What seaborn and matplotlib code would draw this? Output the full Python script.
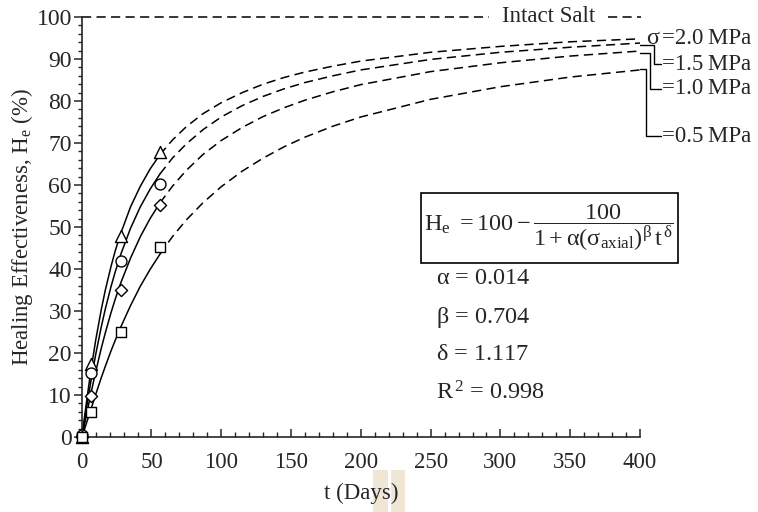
import numpy as np
import pandas as pd
import matplotlib
matplotlib.use("Agg")
import matplotlib.pyplot as plt
import seaborn as sns
from matplotlib.patches import Rectangle

# ---------------- data ----------------
stress_levels = ["2.0", "1.5", "1.0", "0.5"]
stress_markers = ["^", "o", "D", "s"]
stress_marker_sizes = [75, 62, 38, 62]

t_obs = [0, 7, 28, 56]
he_obs_20 = [0.0, 17.5, 47.8, 67.9]
he_obs_15 = [0.4, 15.3, 42.0, 60.2]
he_obs_10 = [0.0, 9.7, 35.1, 55.2]
he_obs_05 = [0.0, 6.0, 25.1, 45.3]

t_fit = [0, 1, 2, 3, 5, 7, 10, 14, 17, 21, 24, 28, 35, 42, 49, 56, 65, 75, 87,
         100, 115, 130, 145, 160, 180, 200, 250, 300, 350, 400]
he_fit_20 = [0, 2.2, 4.7, 7.2, 12.1, 16.7, 23.0, 30.3, 35.1, 40.6, 44.3, 48.5, 54.8, 59.7, 63.8,
             67.2, 70.7, 73.9, 77.0, 79.6, 82.0, 84.0, 85.6, 86.9, 88.3, 89.5, 91.6, 93.0, 94.1, 94.8]
he_fit_15 = [0, 1.8, 3.9, 6.0, 10.1, 14.1, 19.6, 26.2, 30.6, 35.8, 39.3, 43.5, 49.7, 54.8, 59.0,
             62.6, 66.4, 69.8, 73.2, 76.2, 78.9, 81.1, 82.9, 84.4, 86.0, 87.4, 89.9, 91.6, 92.8, 93.8]
he_fit_10 = [0, 1.4, 3.0, 4.6, 7.8, 11.0, 15.5, 21.1, 24.9, 29.6, 32.8, 36.7, 42.6, 47.7, 52.0,
             55.7, 59.7, 63.5, 67.3, 70.6, 73.7, 76.3, 78.4, 80.2, 82.2, 83.9, 87.0, 89.1, 90.7, 91.9]
he_fit_05 = [0, 0.9, 1.8, 2.9, 4.9, 7.0, 10.1, 14.1, 16.9, 20.5, 23.0, 26.2, 31.3, 35.9, 39.9,
             43.5, 47.7, 51.7, 55.8, 59.6, 63.3, 66.4, 69.1, 71.4, 74.0, 76.2, 80.4, 83.4, 85.7, 87.4]

x_ticks = [0, 50, 100, 150, 200, 250, 300, 350, 400]
y_ticks = [0, 10, 20, 30, 40, 50, 60, 70, 80, 90, 100]
param_labels = [r"$\mathrm{\alpha}$ = 0.014", r"$\mathrm{\beta}$ = 0.704",
                r"$\mathrm{\delta}$ = 1.117", r"R$^{\,2}$ = 0.998"]
stress_texts = ["=2.0\u2009MPa", "=1.5\u2009MPa", "=1.0\u2009MPa", "=0.5\u2009MPa"]
x_label = "t (Days)"
y_label = r"Healing Effectiveness, H$_\mathrm{e}$ (%)"
formula = (r"$\mathrm{H_e}\ = 100 - \dfrac{100}{1+\mathrm{\alpha}"
           r"(\mathrm{\sigma}_{\mathrm{axial}})^{\mathrm{\beta}}\,\mathrm{t}^{\,\mathrm{\delta}}}$")

# ---------------- tables ----------------
obs = pd.DataFrame({
    "t": t_obs * 4,
    "He": he_obs_20 + he_obs_15 + he_obs_10 + he_obs_05,
    "sigma": sum([[s] * len(t_obs) for s in stress_levels], []),
})
fit = pd.DataFrame({
    "t": t_fit * 4,
    "He": he_fit_20 + he_fit_15 + he_fit_10 + he_fit_05,
    "sigma": sum([[s] * len(t_fit) for s in stress_levels], []),
})
fit_solid = fit[fit["t"] <= 56]
fit_dash = fit[fit["t"] >= 56]

# ---------------- style ----------------
sns.set_style("ticks")
plt.rcParams["font.family"] = ["Liberation Serif", "DejaVu Serif"]
plt.rcParams["mathtext.fontset"] = "custom"
plt.rcParams["mathtext.rm"] = "Liberation Serif"
plt.rcParams["mathtext.it"] = "Liberation Serif:italic"
plt.rcParams["mathtext.bf"] = "Liberation Serif:bold"
plt.rcParams["axes.linewidth"] = 1.2

FS = 16.5
fig = plt.figure(figsize=(7.58, 5.12), dpi=100)
ax = fig.add_axes([81.7 / 758, 1 - 437 / 512, (640 - 81.7) / 758, (437 - 17) / 512])

black = {s: "black" for s in stress_levels}
dash = (0, (6, 3.5))
sns.lineplot(data=fit_solid, x="t", y="He", hue="sigma", palette=black,
             estimator=None, sort=True, legend=False, lw=1.1, ax=ax)
sns.lineplot(data=fit_dash, x="t", y="He", hue="sigma", palette=black,
             estimator=None, sort=True, legend=False, lw=1.1,
             linestyle=dash, ax=ax)

for s, m, ms in zip(stress_levels, stress_markers, stress_marker_sizes):
    sub = obs[obs["sigma"] == s]
    sns.scatterplot(data=sub, x="t", y="He", marker=m, s=ms, facecolor="white",
                    edgecolor="black", linewidth=1.0, zorder=5, clip_on=False,
                    legend=False, ax=ax)

# intact salt line
ax.plot([0, 292], [100, 100], color="black", lw=1.1, linestyle=dash, clip_on=False)
ax.plot([377, 401], [100, 100], color="black", lw=1.1, linestyle=dash, clip_on=False)
ax.text(334.5, 100, "Intact Salt", fontsize=FS, ha="center", va="center")

# right-hand stress labels with connectors
ax.text(408.8, 95.0, "\u03c3", fontsize=FS + 1, ha="center", va="center", clip_on=False)
ax.text(415.5, 95.0, stress_texts[0], fontsize=FS, ha="left", va="center", clip_on=False)
conn = [
    # (y at curve end, x of vertical, y of label)
    (he_fit_15[-1] - 0.4, 409.7, 88.7),
    (he_fit_10[-1] - 0.4, 406.9, 82.9),
    (he_fit_05[-1] + 0.2, 404.0, 71.6),
]
for (y0, xv, yl), lab in zip(conn, stress_texts[1:]):
    ax.plot([400, xv, xv, 415.0], [y0, y0, yl, yl], color="black", lw=1.0,
            clip_on=False, solid_joinstyle="miter")
    ax.text(415.5, yl, lab, fontsize=FS, ha="left", va="center", clip_on=False)

# formula with a box around it
ftxt = fig.text(424 / 758, 1 - 228 / 512, formula, fontsize=17.5, ha="left", va="center")
fig.canvas.draw()
bb = ftxt.get_window_extent(fig.canvas.get_renderer())
x_right = bb.x1 + 4
fig.patches.append(Rectangle((421 / 758, 1 - 263 / 512), (x_right - 421) / 758, 70 / 512,
                             transform=fig.transFigure, fill=False,
                             edgecolor="black", lw=1.2))

for lab, py in zip(param_labels, [279, 317, 355, 393]):
    fig.text(436 / 758, 1 - py / 512, lab, fontsize=17.5, ha="left", va="center")

# axes
ax.set_xlim(0, 400)
ax.set_ylim(0, 100)
ax.set_xticks(x_ticks)
ax.set_yticks(y_ticks)
ax.set_xticks(np.arange(0, 401, 10), minor=True)
ax.set_yticks(np.arange(0, 101, 2), minor=True)
ax.tick_params(axis="x", which="major", direction="in", length=6, width=1.1,
               labelsize=FS, pad=11)
ax.tick_params(axis="x", which="minor", direction="in", length=3.5, width=1.0)
ax.tick_params(axis="y", which="major", direction="out", length=6, width=1.1,
               labelsize=FS + 0.5, pad=1)
ax.tick_params(axis="y", which="minor", direction="out", length=3, width=1.0)
sns.despine(ax=ax)
ax.set_xlabel(x_label, fontsize=FS, labelpad=7)
ax.set_ylabel(y_label, fontsize=FS, labelpad=1)

# faint highlight marks seen under the x-axis title
for x0, w in [(373, 15), (391, 14)]:
    fig.patches.append(Rectangle((x0 / 758, 0), w / 758, 42 / 512,
                                 transform=fig.transFigure, facecolor="#efe6d6",
                                 edgecolor="none", zorder=-1))

fig.savefig("out.png", dpi=100)
